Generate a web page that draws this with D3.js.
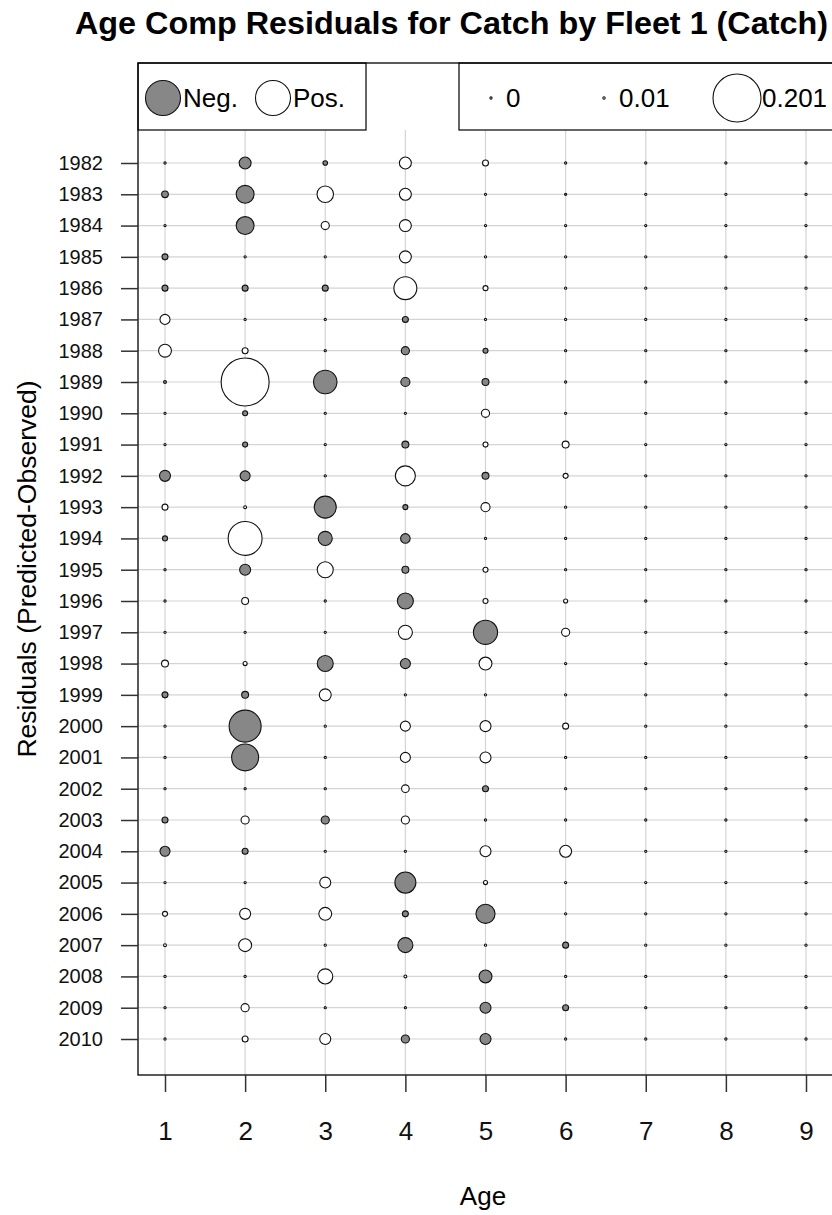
<!DOCTYPE html>
<html><head><meta charset="utf-8">
<script src="https://cdn.jsdelivr.net/npm/d3@7"></script>
<style>body{margin:0;background:#fff}svg{display:block}text{font-family:"Liberation Sans",Arial,sans-serif}</style>
</head><body><svg id="c" width="832" height="1215"></svg>
<script>
const titleText = "Age Comp Residuals for Catch by Fleet 1 (Catch)";
const xTitle = "Age";
const yTitle = "Residuals (Predicted-Observed)";
const ages = [1,2,3,4,5,6,7,8,9];
const years = d3.range(1982, 2011);
// residuals (Predicted-Observed) per year, ages 1..9
const residuals = [
 [ 0.001,-0.050,-0.019, 0.050, 0.025, 0.001, 0.001, 0.001, 0.001], //1982
 [-0.028,-0.075, 0.069, 0.050, 0.001,-0.001, 0.001, 0.001, 0.001], //1983
 [ 0.001,-0.075, 0.034, 0.050, 0.001, 0.001, 0.001, 0.001, 0.001], //1984
 [-0.025, 0.001, 0.001, 0.050, 0.001, 0.001, 0.001, 0.001, 0.001], //1985
 [-0.025,-0.025,-0.025, 0.096, 0.021, 0.001, 0.001, 0.001, 0.001], //1986
 [ 0.042, 0.001, 0.001,-0.025, 0.001, 0.001, 0.001, 0.001, 0.001], //1987
 [ 0.054, 0.025, 0.001,-0.034,-0.021, 0.001, 0.001, 0.001, 0.001], //1988
 [-0.012, 0.201,-0.098,-0.038,-0.029, 0.001, 0.001, 0.001, 0.001], //1989
 [ 0.001,-0.021, 0.001, 0.001, 0.034, 0.001, 0.001, 0.001, 0.001], //1990
 [ 0.001,-0.021, 0.001,-0.029, 0.021, 0.029, 0.001, 0.001, 0.001], //1991
 [-0.046,-0.042, 0.001, 0.084,-0.029, 0.021, 0.001, 0.001, 0.001], //1992
 [ 0.025, 0.012,-0.092,-0.021, 0.038, 0.001, 0.001, 0.001, 0.001], //1993
 [-0.021, 0.142,-0.059,-0.040, 0.001, 0.001, 0.001, 0.001, 0.001], //1994
 [ 0.001,-0.046, 0.067,-0.029, 0.021, 0.001, 0.001, 0.001, 0.001], //1995
 [ 0.001, 0.029, 0.001,-0.067, 0.021, 0.017, 0.001, 0.001, 0.001], //1996
 [ 0.001, 0.001, 0.001, 0.059,-0.101, 0.034, 0.001, 0.001, 0.001], //1997
 [ 0.029, 0.017,-0.067,-0.042, 0.054, 0.001, 0.001, 0.001, 0.001], //1998
 [-0.025,-0.029, 0.050, 0.001, 0.001, 0.001, 0.001, 0.001, 0.001], //1999
 [ 0.001,-0.134, 0.001, 0.042, 0.046, 0.025, 0.001, 0.001, 0.001], //2000
 [ 0.001,-0.113, 0.001, 0.042, 0.046, 0.001, 0.001, 0.001, 0.001], //2001
 [ 0.001, 0.001, 0.001, 0.032,-0.025, 0.001, 0.001, 0.001, 0.001], //2002
 [-0.025, 0.034,-0.034, 0.034, 0.001, 0.001, 0.001, 0.001, 0.001], //2003
 [-0.042,-0.025, 0.001, 0.008, 0.046, 0.050, 0.001, 0.001, 0.001], //2004
 [ 0.001, 0.001, 0.046,-0.088, 0.017, 0.001, 0.001, 0.001, 0.001], //2005
 [ 0.021, 0.046, 0.054,-0.025,-0.080, 0.001, 0.001, 0.001, 0.001], //2006
 [ 0.012, 0.054, 0.001,-0.063, 0.001,-0.025, 0.001, 0.001, 0.001], //2007
 [ 0.001, 0.001, 0.063, 0.012,-0.054, 0.001, 0.001, 0.001, 0.001], //2008
 [ 0.001, 0.034, 0.001, 0.001,-0.046,-0.025, 0.001, 0.001, 0.001], //2009
 [ 0.001, 0.025, 0.046,-0.034,-0.046, 0.001, 0.001, 0.001, 0.001]  //2010
];
const signLabels = ["Neg.", "Pos."];
const legendValues = [0, 0.01, 0.201];
const legendLabels = ["0", "0.01", "0.201"];

const svg = d3.select("#c");
const F = {l:138, t:63, r:834, b:1075};
const LB = 130; // legend bottom
const x = d3.scaleLinear().domain([1,9]).range([165,806]);
const y = d3.scaleLinear().domain([1982,2010]).range([163,1039]);
const rScale = d3.scaleLinear().domain([0,0.201]).range([0,24]);
const rad = v => Math.max(1.1, rScale(Math.abs(v)));
const negFill = "#878787";

// grid
const grid = svg.append("g").attr("stroke","#d4d4d4").attr("stroke-width",1.2);
grid.selectAll("line.v").data(ages).join("line").attr("class","v")
  .attr("x1",d=>x(d)).attr("x2",d=>x(d)).attr("y1",LB).attr("y2",F.b);
grid.selectAll("line.h").data(years).join("line").attr("class","h")
  .attr("x1",F.l).attr("x2",F.r).attr("y1",d=>y(d)).attr("y2",d=>y(d));

// bubbles
const cells = [];
years.forEach((yr,i)=>ages.forEach((a,j)=>cells.push({yr,a,v:residuals[i][j]})));
svg.append("g").selectAll("circle").data(cells).join("circle")
  .attr("cx",d=>x(d.a)).attr("cy",d=>y(d.yr)).attr("r",d=>rad(d.v))
  .attr("fill",d=>d.v<0?negFill:"#fff").attr("stroke","#111").attr("stroke-width",1.1);

// legends
const lg = svg.append("g");
lg.append("rect").attr("x",F.l).attr("y",F.t).attr("width",366-F.l).attr("height",LB-F.t)
  .attr("fill","#fff").attr("stroke","#000").attr("stroke-width",1.2);
lg.append("rect").attr("x",459).attr("y",F.t).attr("width",F.r-459).attr("height",LB-F.t)
  .attr("fill","#fff").attr("stroke","#000").attr("stroke-width",1.2);
const signX = [163, 273];
lg.selectAll("circle.s").data(signLabels).join("circle").attr("class","s")
  .attr("cx",(d,i)=>signX[i]).attr("cy",98).attr("r",17.5)
  .attr("fill",(d,i)=>i===0?negFill:"#fff").attr("stroke","#111").attr("stroke-width",1.1);
lg.selectAll("text.s").data(signLabels).join("text").attr("class","s")
  .attr("x",(d,i)=>signX[i]+20).attr("y",107).attr("font-size",26).text(d=>d);
const legX = [491, 604, 737];
lg.selectAll("circle.z").data(legendValues).join("circle").attr("class","z")
  .attr("cx",(d,i)=>legX[i]).attr("cy",98).attr("r",d=>rad(d))
  .attr("fill","#fff").attr("stroke","#111").attr("stroke-width",1.1);
lg.selectAll("text.z").data(legendLabels).join("text").attr("class","z")
  .attr("x",(d,i)=>legX[i]+(i===2?25:15)).attr("y",107).attr("font-size",26).text(d=>d);

// frame
svg.append("rect").attr("x",F.l).attr("y",F.t).attr("width",F.r-F.l).attr("height",F.b-F.t)
  .attr("fill","none").attr("stroke","#000").attr("stroke-width",1.3);

// axes
const ya = svg.append("g").attr("transform",`translate(${F.l},0)`)
  .call(d3.axisLeft(y).tickValues(years).tickFormat(d3.format("d")).tickSize(17).tickPadding(18));
ya.select(".domain").remove();
ya.selectAll("line").attr("stroke","#333").attr("stroke-width",1.5);
ya.selectAll("text").attr("font-size",20).attr("fill","#111").attr("font-family",null);
const xa = svg.append("g").attr("transform",`translate(0,${F.b})`)
  .call(d3.axisBottom(x).tickValues(ages).tickFormat(d3.format("d")).tickSize(17).tickPadding(30));
xa.select(".domain").remove();
xa.selectAll("line").attr("stroke","#333").attr("stroke-width",1.5);
xa.selectAll("text").attr("font-size",26).attr("fill","#111").attr("font-family",null);

// titles
svg.append("text").attr("x",75).attr("y",34).attr("font-size",32).attr("font-weight","bold")
  .attr("textLength",753).attr("lengthAdjust","spacingAndGlyphs").text(titleText);
svg.append("text").attr("x",483).attr("y",1205).attr("text-anchor","middle").attr("font-size",26).text(xTitle);
svg.append("text").attr("transform","translate(36,569) rotate(-90)").attr("text-anchor","middle")
  .attr("font-size",26.5).text(yTitle);
</script></body></html>
